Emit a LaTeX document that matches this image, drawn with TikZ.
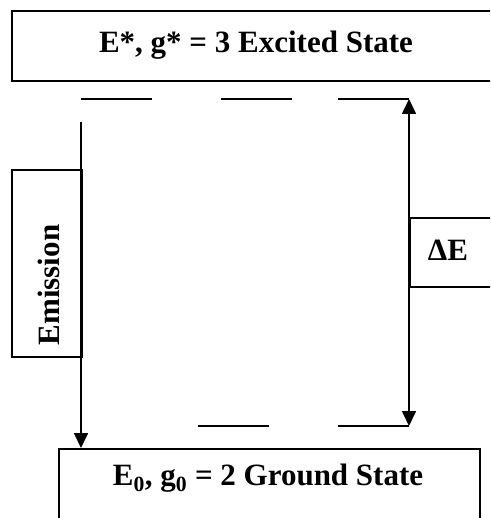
\documentclass[tikz,border=0pt]{standalone}
\usepackage{fontspec}
\setmainfont{Liberation Serif}
\usetikzlibrary{arrows.meta,positioning}

\begin{document}
\begin{tikzpicture}[
  x=1pt, y=-1pt,
  font=\fontsize{31}{36}\selectfont\bfseries,
  box/.style={draw, line width=1.8pt, inner sep=0pt, anchor=north west},
  lbl/.style={inner sep=0pt},
  lvl/.style={line width=1.8pt},
  arr/.style={-{Triangle[length=15pt,width=14pt]}, line width=1.7pt},
  dbl/.style={{Triangle[length=15pt,width=14pt]}-{Triangle[length=15pt,width=14pt]}, line width=1.7pt}
]
\useasboundingbox (0,0) rectangle (490,518);
\clip (0,0) rectangle (490,518);

% state boxes
\node[box, minimum width=489pt, minimum height=70pt] (excited) at (11,10) {};
\node[lbl] (exctxt) at (256,45) {E*, g* = 3 Excited State};

\node[box, minimum width=421pt, minimum height=100pt] (ground) at (58,448) {};
\node[lbl] (grdtxt) at (268,478) {E\textsubscript{0}, g\textsubscript{0} = 2 Ground State};

% side labels
\node[box, minimum width=70pt, minimum height=187pt] (embox) at (11,169) {};
\node[lbl, rotate=90] (emtxt) at (49,285) {Emission};

\node[box, minimum width=100pt, minimum height=69pt] (debox) at (409,217) {};
\node[lbl] (detxt) at (448,250) {ΔE};

% sublevels
\foreach \xa/\xb in {81/152, 221/292, 338/409}
  \draw[lvl] (\xa,99) -- (\xb,99);
\foreach \xa/\xb in {198/269, 338/409}
  \draw[lvl] (\xa,426) -- (\xb,426);

\coordinate (emtop) at (81,122);
\coordinate (hiE) at (409,99);
\coordinate (loE) at (409,426);

\draw[arr] (emtop) -- (emtop |- ground.north);
\draw[dbl] (loE) -- (hiE);

\end{tikzpicture}
\end{document}
